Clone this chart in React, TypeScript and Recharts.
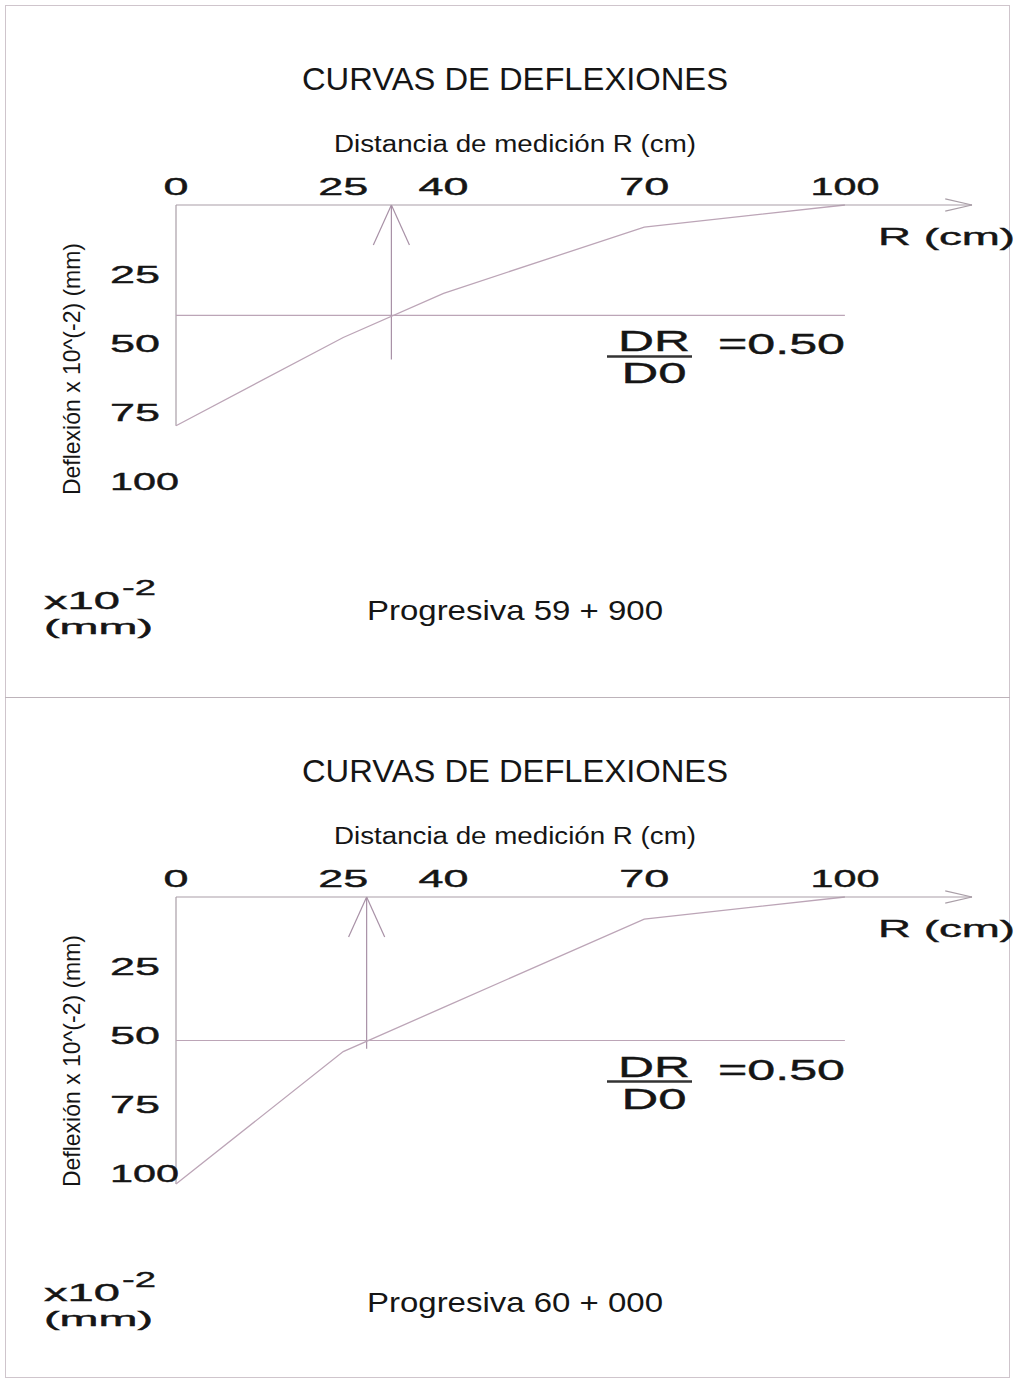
import { LineChart, Line, XAxis, YAxis, ReferenceLine } from "recharts";

// Distancia de medición R (cm) y deflexiones leídas (x10^-2 mm)
const distances = [0, 25, 40, 70, 100];
const deflection59900 = [80, 48, 32, 8, 0];
const deflection60000 = [104, 56, 40, 8, 0];
const progresivas = ["Progresiva 59 + 900", "Progresiva 60 + 000"];
// R where the curve reaches DR = D0 / 2, and where the vertical arrow stops
const rAtHalf = [32.2, 28.5];
const arrowEnds = [56, 55];
const ratioText = "=0.50";
const xTicks = [0, 25, 40, 70, 100];
const yTicks = [25, 50, 75, 100];

const WIDE = "'Liberation Sans', Arial, sans-serif";
const NARROW = "'Liberation Sans Narrow', 'Arial Narrow', 'Liberation Sans', sans-serif";
const INK = "#151515";
const CURVE = "#bca5b7";
const AXIS = "#a99ea7";

// wide glyphs: every digit about 25px, the "1" narrower
function wideWidth(s: string) {
  return [...s].reduce((w, c) => w + (c === "1" ? 19 : 25), 0);
}

function TopTick(props: any) {
  const { x, y, payload } = props;
  const s = String(payload.value);
  return (
    <text
      x={x}
      y={y}
      textAnchor="middle"
      fontFamily={WIDE}
      fontSize={24}
      fill={INK}
      stroke={INK}
      strokeWidth={0.4}
      textLength={wideWidth(s)}
      lengthAdjust="spacingAndGlyphs"
    >
      {s}
    </text>
  );
}

function LeftTick(props: any) {
  const { x, y, payload } = props;
  const s = String(payload.value);
  return (
    <text
      x={x - 66}
      y={y + 9}
      textAnchor="start"
      fontFamily={WIDE}
      fontSize={24}
      fill={INK}
      stroke={INK}
      strokeWidth={0.4}
      textLength={wideWidth(s)}
      lengthAdjust="spacingAndGlyphs"
    >
      {s}
    </text>
  );
}

// DR / D0 = 0.50 sits just under the half-deflection line
function RatioLabel(props: any) {
  const y = props.viewBox?.y ?? 0;
  const common = {
    fontFamily: WIDE,
    fontSize: 30,
    fill: INK,
    stroke: INK,
    strokeWidth: 0.4,
    lengthAdjust: "spacingAndGlyphs" as const,
  };
  return (
    <g>
      <text x={654} y={y + 36} textAnchor="middle" textLength={72} {...common}>
        DR
      </text>
      <line x1={607} x2={692} y1={y + 41} y2={y + 41} stroke="#333" strokeWidth={2.5} />
      <text x={654} y={y + 68} textAnchor="middle" textLength={65} {...common}>
        D0
      </text>
      <text x={718} y={y + 39} textAnchor="start" textLength={127} {...common}>
        {ratioText}
      </text>
    </g>
  );
}

interface PanelProps {
  top: number;
  height: number;
  deflections: number[];
  rHalf: number;
  arrowEnd: number;
  progresiva: string;
}

function Panel({ top, height, deflections, rHalf, arrowEnd, progresiva }: PanelProps) {
  const data = distances.map((r, i) => ({ r, d: deflections[i] }));
  const d0 = deflections[0];
  const half = d0 / 2;
  const plotHeight = 110 * 2.76;

  const seg = { stroke: AXIS, strokeWidth: 1.2, ifOverflow: "visible" as const };

  return (
    <>
      <div style={{ position: "absolute", left: 0, top, width: 1018, height }}>
        <LineChart
          width={1018}
          height={height}
          data={data}
          margin={{ top: 175, left: 116, right: 46, bottom: height - 205 - plotHeight }}
        >
          <XAxis
            type="number"
            dataKey="r"
            orientation="top"
            domain={[0, 119]}
            ticks={xTicks}
            interval={0}
            height={30}
            axisLine={{ stroke: AXIS, strokeWidth: 1.2 }}
            tickLine={false}
            tickSize={0}
            tickMargin={10}
            tick={<TopTick />}
          />
          <YAxis
            type="number"
            domain={[0, 110]}
            reversed
            ticks={yTicks}
            interval={0}
            width={60}
            axisLine={false}
            tickLine={false}
            tickSize={0}
            tickMargin={0}
            tick={<LeftTick />}
          />
          {/* x axis arrow head */}
          <ReferenceLine segment={[{ x: 115, y: -2.2 }, { x: 119, y: 0 }]} {...seg} />
          <ReferenceLine segment={[{ x: 115, y: 2.2 }, { x: 119, y: 0 }]} {...seg} />
          {/* y axis down to D0 */}
          <ReferenceLine segment={[{ x: 0, y: 0 }, { x: 0, y: d0 }]} {...seg} />
          {/* half deflection line */}
          <ReferenceLine segment={[{ x: 0, y: half }, { x: 100, y: half }]} stroke={CURVE} strokeWidth={1.2} />
          <ReferenceLine y={half} stroke="none" label={<RatioLabel />} />
          {/* vertical arrow at R where D = D0/2 */}
          <ReferenceLine segment={[{ x: rHalf, y: 0 }, { x: rHalf, y: arrowEnd }]} stroke="#a891a6" strokeWidth={1.2} />
          <ReferenceLine segment={[{ x: rHalf, y: 0 }, { x: rHalf - 2.7, y: 14.5 }]} stroke="#a891a6" strokeWidth={1.2} />
          <ReferenceLine segment={[{ x: rHalf, y: 0 }, { x: rHalf + 2.7, y: 14.5 }]} stroke="#a891a6" strokeWidth={1.2} />
          <Line
            type="linear"
            dataKey="d"
            stroke={CURVE}
            strokeWidth={1.3}
            dot={false}
            isAnimationActive={false}
          />
        </LineChart>
      </div>
      <svg
        width={1018}
        height={height}
        style={{ position: "absolute", left: 0, top, pointerEvents: "none" }}
      >
        <text x={515} y={90} textAnchor="middle" fontFamily={NARROW} fontSize={31} fill={INK}
          textLength={426} lengthAdjust="spacingAndGlyphs">
          CURVAS DE DEFLEXIONES
        </text>
        <text x={515} y={152} textAnchor="middle" fontFamily={NARROW} fontSize={23} fill={INK}
          textLength={362} lengthAdjust="spacingAndGlyphs">
          Distancia de medición R (cm)
        </text>
        <text x={878} y={245} fontFamily={WIDE} fontSize={24} fill={INK} stroke={INK} strokeWidth={0.4}
          textLength={137} lengthAdjust="spacingAndGlyphs">
          R (cm)
        </text>
        <text
          x={80}
          y={369}
          transform="rotate(-90 80 369)"
          textAnchor="middle"
          fontFamily={NARROW}
          fontSize={24}
          fill={INK}
          textLength={252}
          lengthAdjust="spacingAndGlyphs"
        >
          Deflexión x 10^(-2) (mm)
        </text>
        <text x={44} y={609} fontFamily={WIDE} fontSize={24} fill={INK} stroke={INK} strokeWidth={0.4}
          textLength={76} lengthAdjust="spacingAndGlyphs">
          x10
        </text>
        <text x={122} y={595} fontFamily={WIDE} fontSize={22} fill={INK} stroke={INK} strokeWidth={0.4}
          textLength={34} lengthAdjust="spacingAndGlyphs">
          -2
        </text>
        <text x={44} y={634} fontFamily={WIDE} fontSize={21} fill={INK} stroke={INK} strokeWidth={0.4}
          textLength={109} lengthAdjust="spacingAndGlyphs">
          (mm)
        </text>
        <text x={515} y={620} textAnchor="middle" fontFamily={NARROW} fontSize={28} fill={INK}
          textLength={296} lengthAdjust="spacingAndGlyphs">
          {progresiva}
        </text>
      </svg>
    </>
  );
}

export default function App() {
  return (
    <div
      style={{
        position: "absolute",
        left: 0,
        top: 0,
        width: 1018,
        height: 1380,
        background: "#fff",
        overflow: "hidden",
      }}
    >
      <div
        style={{
          position: "absolute",
          left: 5,
          top: 5,
          width: 1005,
          height: 1373,
          border: "1px solid #cfc5cc",
          boxSizing: "border-box",
        }}
      />
      <div style={{ position: "absolute", left: 5, top: 697, width: 1005, height: 1, background: "#bdb3ba" }} />
      <Panel
        top={0}
        height={692}
        deflections={deflection59900}
        rHalf={rAtHalf[0]}
        arrowEnd={arrowEnds[0]}
        progresiva={progresivas[0]}
      />
      <Panel
        top={692}
        height={688}
        deflections={deflection60000}
        rHalf={rAtHalf[1]}
        arrowEnd={arrowEnds[1]}
        progresiva={progresivas[1]}
      />
    </div>
  );
}
